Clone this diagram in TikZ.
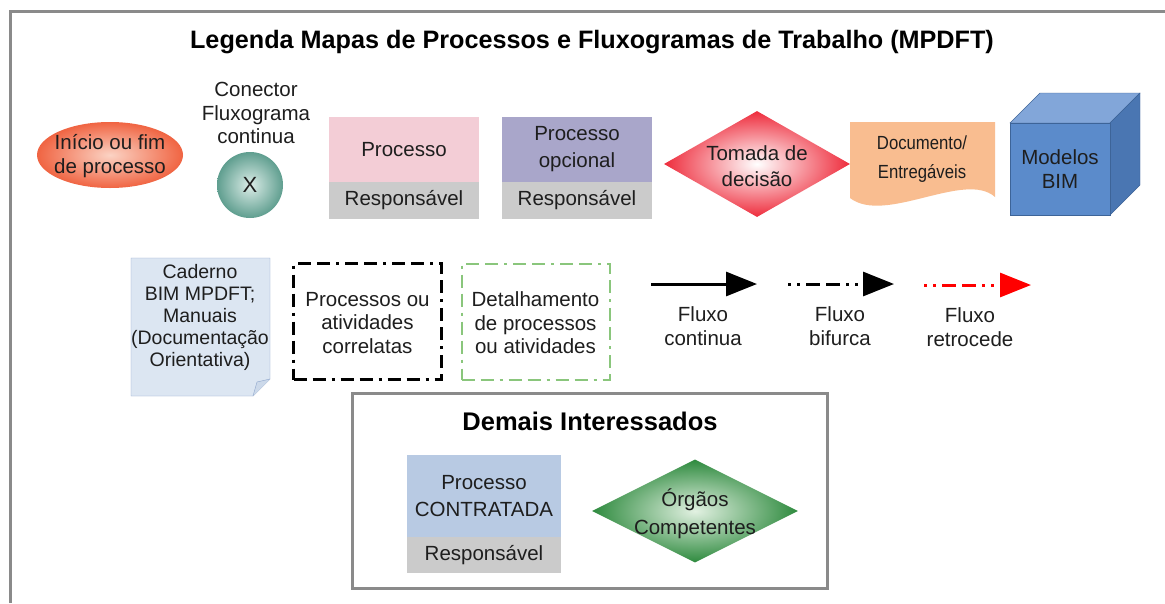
\documentclass[tikz,border=0pt]{standalone}
\usepackage{fontspec}
\setmainfont{Liberation Sans}
\newfontfamily\narrowfont{Liberation Sans}[FakeStretch=0.88]
\usepgflibrary{arrows.meta}
\usetikzlibrary{shapes.geometric}
\usetikzlibrary{positioning}
\definecolor{txtgray}{HTML}{1E1E1E}
\definecolor{framegray}{HTML}{8A8A8A}
\definecolor{respgray}{HTML}{CBCBCB}
\definecolor{procpink}{HTML}{F3CDD6}
\definecolor{proclilac}{HTML}{A9A6CA}
\definecolor{procblue}{HTML}{B8CAE3}
\definecolor{startin}{HTML}{FBD3C4}
\definecolor{startout}{HTML}{F06442}
\definecolor{connin}{HTML}{DCEDE8}
\definecolor{connout}{HTML}{5F9E8F}
\definecolor{decout}{HTML}{EE2C3C}
\definecolor{orgin}{HTML}{E2F1E2}
\definecolor{orgout}{HTML}{2E8A3E}
\definecolor{docpeach}{HTML}{F9BD90}
\definecolor{cubefront}{HTML}{5B8BCB}
\definecolor{cubetop}{HTML}{82A6D9}
\definecolor{cubeside}{HTML}{4A76B2}
\definecolor{cubeline}{HTML}{3D6498}
\definecolor{notefill}{HTML}{DCE6F2}
\definecolor{noteline}{HTML}{8DA5CB}
\definecolor{detgreen}{HTML}{8AC67C}

\begin{document}
\begin{tikzpicture}[x=1pt, y=-1pt,
  txt/.style={align=center, text=txtgray, font=\fontsize{20.5}{23.5}\selectfont, inner sep=0.},
  top box/.style={rectangle, minimum width=150pt, minimum height=65pt, inner sep=0., outer sep=0., align=center, text=txtgray, font=\fontsize{20.5}{27}\selectfont},
  resp box/.style={rectangle, fill=respgray, minimum width=150pt, minimum height=37pt, inner sep=0., outer sep=0., text=txtgray, font=\fontsize{20.5}{23}\selectfont},
  dash box/.style={rectangle, minimum width=148pt, minimum height=116pt, inner sep=0., dash pattern=on 13pt off 6pt on 13pt off 6pt on 3pt off 6pt},
  flow/.style={line width=3pt, -{Triangle[length=31pt,width=24pt]}}]%
  \useasboundingbox (0., 0.) rectangle (1165., 603.);
  \fill[white] (0., 0.) rectangle (1165., 603.);
  \draw[framegray, line width=3pt] (10., 603.)--(10., 11.)--(1165., 11.);
  \node[font=\fontsize{25.2}{28}\selectfont\bfseries, text=black] (title) at (592., 42.) {Legenda Mapas de Processos e Fluxogramas de Trabalho (MPDFT)};
  % first row
  \node[ellipse, minimum width=146pt, minimum height=66pt, inner sep=0., inner color=startin, outer color=startout] (start) at (110., 155.) {};
  \node[txt] (startlbl) at (110., 156.) {Início ou fim\\de processo};
  \node[circle, minimum size=66pt, inner sep=0., inner color=connin, outer color=connout, font=\fontsize{22}{24}\selectfont, text=txtgray] (conn) at (250., 185.) {X};
  \node[txt] (connlbl) at (256., 113.) {Conector\\Fluxograma\\continua};
  \node[top box, fill=procpink] (proc) at (404., 149.5) {Processo};
  \node[resp box, below=0pt of proc] (procresp) {Responsável};
  \node[top box, fill=proclilac] (opc) at (577., 149.5) {Processo\\opcional};
  \node[resp box, below=0pt of opc] (opcresp) {Responsável};
  \node[diamond, minimum width=186pt, minimum height=106pt, inner sep=0., inner color=white, outer color=decout] (dec) at (757., 164.) {};
  \node[txt, font=\fontsize{20.5}{26}\selectfont] (declbl) at (757., 166.) {Tomada de\\decisão};
  \fill[docpeach] (850., 122.)--(995., 122.)--(995., 197.) .. controls (965., 170.) and (885., 225.) .. (850., 198.)--cycle;
  \node[txt, font=\narrowfont\fontsize{19}{29}\selectfont] (doclbl) at (922., 159.) {Documento/\\Entregáveis};
  \filldraw[fill=cubetop, draw=cubeline] (1010., 123.)--(1040., 93.)--(1140., 93.)--(1110., 123.)--cycle;
  \filldraw[fill=cubeside, draw=cubeline] (1110., 123.)--(1140., 93.)--(1140., 185.)--(1110., 215.)--cycle;
  \filldraw[fill=cubefront, draw=cubeline] (1010., 123.) rectangle (1110., 215.);
  \node[txt] (bimlbl) at (1060., 169.) {Modelos\\BIM};
  % second row
  \filldraw[fill=notefill, draw=noteline] (131., 258.)--(270., 258.)--(270., 379.)--(253., 396.)--(131., 396.)--cycle;
  \draw[noteline, fill=notefill!80!noteline] (253., 396.)--(257., 382.)--(270., 379.);
  \node[txt, font=\fontsize{19.5}{22}\selectfont] (notelbl) at (200., 317.) {Caderno\\BIM MPDFT;\\Manuais\\(Documentação\\Orientativa)};
  \node[dash box, draw=black, line width=3pt] (rel) at (367.5, 321.5) {};
  \node[txt] (rellbl) at (367.5, 323.) {Processos ou\\atividades\\correlatas};
  \node[dash box, draw=detgreen, line width=2pt] (det) at (535.5, 321.5) {};
  \node[txt] (detlbl) at (535.5, 323.) {Detalhamento\\de processos\\ou atividades};
  \coordinate (conta) at (651., 284.);
  \coordinate (contb) at (757., 284.);
  \draw[flow] (conta)--(contb);
  \node[txt] (contlbl) at (703., 326.) {Fluxo\\continua};
  \coordinate (bifa) at (788., 284.);
  \coordinate (bifb) at (894., 284.);
  \draw[flow, dash pattern=on 3pt off 6pt on 3pt off 6pt on 14pt off 6pt on 14pt off 6pt] (bifa)--(bifb);
  \node[txt] (biflbl) at (840., 326.) {Fluxo\\bifurca};
  \coordinate (reta) at (924., 285.);
  \coordinate (retb) at (1031., 285.);
  \draw[flow, red, dash pattern=on 3pt off 6pt on 3pt off 6pt on 14pt off 6pt on 14pt off 6pt] (reta)--(retb);
  \node[txt] (retlbl) at (970., 327.) {Fluxo\\retrocede};
  % demais interessados
  \draw[framegray, line width=3pt] (352., 393.) rectangle (827., 588.);
  \node[font=\fontsize{25.5}{28}\selectfont\bfseries, text=black] (demlbl) at (590., 421.) {Demais Interessados};
  \node[top box, fill=procblue, minimum width=154pt, minimum height=82pt] (contr) at (484., 496.) {Processo\\CONTRATADA};
  \node[resp box, minimum width=154pt, minimum height=36pt, below=0pt of contr] (contrresp) {Responsável};
  \node[diamond, minimum width=206pt, minimum height=103pt, inner sep=0., inner color=orgin, outer color=orgout] (org) at (695., 511.) {};
  \node[txt, font=\fontsize{20.5}{28}\selectfont] (orglbl) at (695., 514.) {Órgãos\\Competentes};
\end{tikzpicture}
\end{document}
